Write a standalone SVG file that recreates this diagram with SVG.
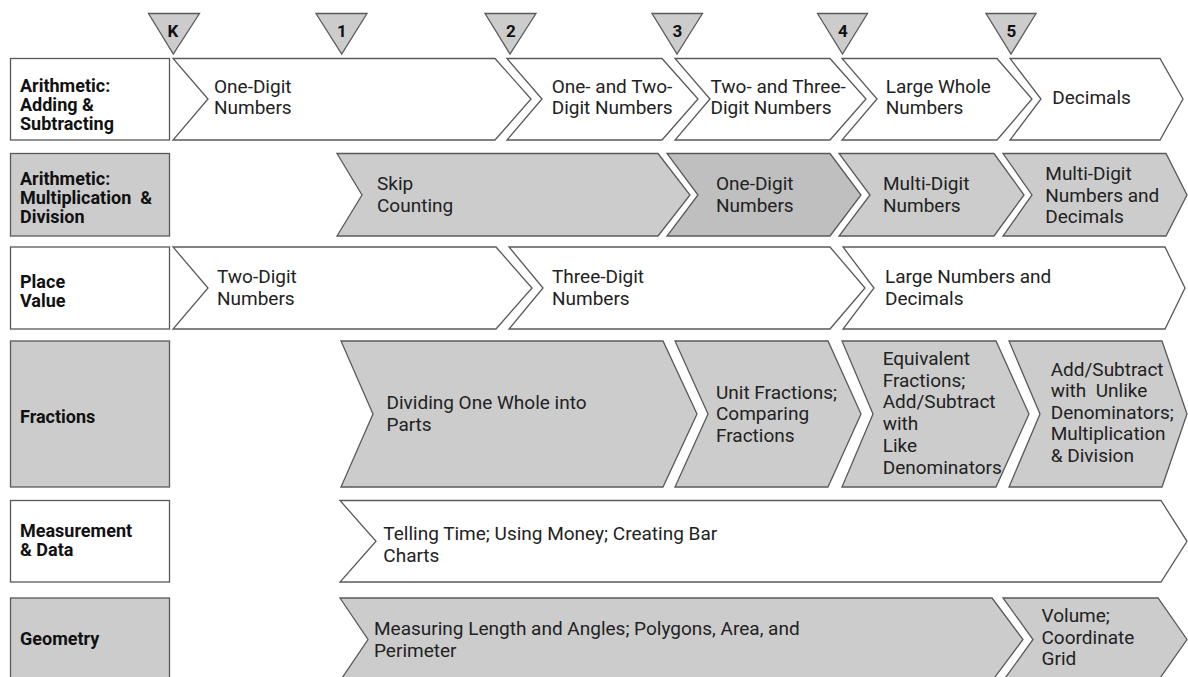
<svg xmlns="http://www.w3.org/2000/svg" width="1188" height="677" viewBox="0 0 1188 677">
<style>
.w{fill:#ffffff;stroke:#595959;stroke-width:1.3}
.g{fill:#cccccc;stroke:#595959;stroke-width:1.3}
.d{fill:#bfbfbf;stroke:#595959;stroke-width:1.3}
.t{font-family:Roboto,"Liberation Sans",sans-serif;font-size:19px;fill:#222222}
.b{font-family:Roboto,"Liberation Sans",sans-serif;font-size:18px;font-weight:bold;fill:#111111}
.k{font-family:Roboto,"Liberation Sans",sans-serif;font-size:17px;font-weight:bold;fill:#111111;text-anchor:middle}
</style>
<rect x="0" y="0" width="1188" height="677" fill="#ffffff"/>
<g id="grades">
<g id="grade-K"><polygon class="g" points="148.5,13.5 199.5,13.5 173.3,54"/><text class="k" x="173" y="37">K</text></g>
<g id="grade-1"><polygon class="g" points="316,13.5 367,13.5 341.7,54"/><text class="k" x="342" y="37">1</text></g>
<g id="grade-2"><polygon class="g" points="485,13.5 536,13.5 510,54"/><text class="k" x="511" y="37">2</text></g>
<g id="grade-3"><polygon class="g" points="652,13.5 702.5,13.5 677,54"/><text class="k" x="677.5" y="37">3</text></g>
<g id="grade-4"><polygon class="g" points="817.5,13.5 867.5,13.5 842.5,54"/><text class="k" x="843" y="37">4</text></g>
<g id="grade-5"><polygon class="g" points="986,13.5 1036,13.5 1011,54"/><text class="k" x="1011.5" y="37">5</text></g>
</g>

<g id="row1">
<g id="label-add"><rect class="w" x="10.5" y="58.5" width="159" height="81.5"/>
<text class="b" x="20" y="92">Arithmetic:</text><text class="b" x="20" y="111">Adding &amp;</text><text class="b" x="20" y="130">Subtracting</text></g>
<g id="add-1"><polygon class="w" points="173,58.5 495,58.5 531,99 495,140 173,140 208,99"/>
<text class="t" x="214" y="92.7">One-Digit</text><text class="t" x="214" y="114.3">Numbers</text></g>
<g id="add-2"><polygon class="w" points="507,58.5 662,58.5 698,99 662,140 507,140 542,99"/>
<text class="t" x="551.7" y="92.7">One- and Two-</text><text class="t" x="551.7" y="114.3">Digit Numbers</text></g>
<g id="add-3"><polygon class="w" points="675,58.5 830,58.5 866,99 830,140 675,140 710,99"/>
<text class="t" x="710.5" y="92.7">Two- and Three-</text><text class="t" x="710.5" y="114.3">Digit Numbers</text></g>
<g id="add-4"><polygon class="w" points="842,58.5 997,58.5 1032,99 997,140 842,140 877,99"/>
<text class="t" x="885.7" y="92.7">Large Whole</text><text class="t" x="885.7" y="114.3">Numbers</text></g>
<g id="add-5"><polygon class="w" points="1010,58.5 1160,58.5 1183,99 1160,140 1010,140 1041,99"/>
<text class="t" x="1052.3" y="104">Decimals</text></g>
</g>

<g id="row2">
<g id="label-mul"><rect class="g" x="10.5" y="153.5" width="159" height="82.5"/>
<text class="b" x="20" y="185">Arithmetic:</text><text class="b" x="20" y="204" xml:space="preserve">Multiplication  &amp;</text><text class="b" x="20" y="223">Division</text></g>
<g id="mul-1"><polygon class="g" points="337,153.5 658,153.5 690,195 658,236 337,236 362,195"/>
<text class="t" x="377" y="190">Skip</text><text class="t" x="377" y="211.5">Counting</text></g>
<g id="mul-2"><polygon class="d" points="667,153.5 830,153.5 861,195 830,236 667,236 698,195"/>
<text class="t" x="716" y="190">One-Digit</text><text class="t" x="716" y="211.5">Numbers</text></g>
<g id="mul-3"><polygon class="g" points="839,153.5 994,153.5 1024,195 994,236 839,236 870,195"/>
<text class="t" x="883" y="190">Multi-Digit</text><text class="t" x="883" y="211.5">Numbers</text></g>
<g id="mul-4"><polygon class="g" points="1003,153.5 1166,153.5 1187,195 1166,236 1003,236 1032,195"/>
<text class="t" x="1045.3" y="180">Multi-Digit</text><text class="t" x="1045.3" y="201.5">Numbers and</text><text class="t" x="1045.3" y="223">Decimals</text></g>
</g>

<g id="row3">
<g id="label-place"><rect class="w" x="10.5" y="247" width="159" height="82"/>
<text class="b" x="20" y="287.5">Place</text><text class="b" x="20" y="307">Value</text></g>
<g id="place-1"><polygon class="w" points="173,247 496,247 532,288 496,329 173,329 208,288"/>
<text class="t" x="217" y="283">Two-Digit</text><text class="t" x="217" y="304.5">Numbers</text></g>
<g id="place-2"><polygon class="w" points="509,247 830,247 865,288 830,329 509,329 543,288"/>
<text class="t" x="552" y="283">Three-Digit</text><text class="t" x="552" y="304.5">Numbers</text></g>
<g id="place-3"><polygon class="w" points="843,247 1165,247 1185,288 1165,329 843,329 874,288"/>
<text class="t" x="885" y="283">Large Numbers and</text><text class="t" x="885" y="304.5">Decimals</text></g>
</g>

<g id="row4">
<g id="label-frac"><rect class="g" x="10.5" y="341" width="159" height="146"/>
<text class="b" x="20" y="423">Fractions</text></g>
<g id="frac-1"><polygon class="g" points="341,341 663,341 697,414 663,487 341,487 373,414"/>
<text class="t" x="386.5" y="409">Dividing One Whole into</text><text class="t" x="386.5" y="430.5">Parts</text></g>
<g id="frac-2"><polygon class="g" points="675,341 828,341 861,414 828,487 675,487 708,414"/>
<text class="t" x="716" y="398.5">Unit Fractions;</text><text class="t" x="716" y="420">Comparing</text><text class="t" x="716" y="441.5">Fractions</text></g>
<g id="frac-3"><polygon class="g" points="842,341 996,341 1029,414 996,487 842,487 873,414"/>
<text class="t" x="882.7" y="365">Equivalent</text><text class="t" x="882.7" y="386.7">Fractions;</text><text class="t" x="882.7" y="408.4">Add/Subtract</text><text class="t" x="882.7" y="430.1">with</text><text class="t" x="882.7" y="451.8">Like</text><text class="t" x="882.7" y="473.5">Denominators</text></g>
<g id="frac-4"><polygon class="g" points="1009,341 1162,341 1187,414 1162,487 1009,487 1040,414"/>
<text class="t" x="1050.7" y="375.7">Add/Subtract</text><text class="t" x="1050.7" y="397.2" xml:space="preserve">with  Unlike</text><text class="t" x="1050.7" y="418.7">Denominators;</text><text class="t" x="1050.7" y="440.2">Multiplication</text><text class="t" x="1050.7" y="461.7">&amp; Division</text></g>
</g>

<g id="row5">
<g id="label-meas"><rect class="w" x="10.5" y="500.5" width="159" height="81.5"/>
<text class="b" x="20" y="537">Measurement</text><text class="b" x="20" y="556">&amp; Data</text></g>
<g id="meas-1"><polygon class="w" points="340,500.5 1161,500.5 1187,541.3 1161,582 340,582 376,541.3"/>
<text class="t" x="383.3" y="540.3">Telling Time; Using Money; Creating Bar</text><text class="t" x="383.3" y="561.5">Charts</text></g>
</g>

<g id="row6">
<g id="label-geo"><rect class="g" x="10.5" y="598" width="159" height="83"/>
<text class="b" x="20" y="644.5">Geometry</text></g>
<g id="geo-1"><polygon class="g" points="340,598 992,598 1023,639.5 992,681 340,681 368,639.5"/>
<text class="t" x="374" y="635.3">Measuring Length and Angles; Polygons, Area, and</text><text class="t" x="374" y="656.5">Perimeter</text></g>
<g id="geo-2"><polygon class="g" points="1003,598 1158,598 1187,639.5 1158,681 1003,681 1033,639.5"/>
<text class="t" x="1041.5" y="622">Volume;</text><text class="t" x="1041.5" y="643.5">Coordinate</text><text class="t" x="1041.5" y="665">Grid</text></g>
</g>
<g id="connectors"></g>
</svg>
